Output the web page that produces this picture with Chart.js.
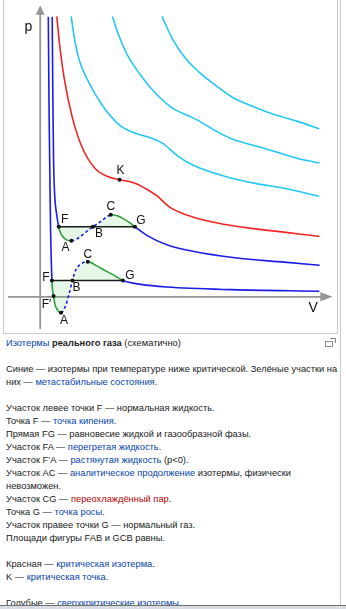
<!DOCTYPE html>
<html lang="ru">
<head>
<meta charset="utf-8">
<script src="https://cdn.jsdelivr.net/npm/chart.js@4"></script>
<style>
html, body { margin: 0; padding: 0; background: #fff; }
body { width: 346px; height: 609px; position: relative; overflow: hidden; font-family: "Liberation Sans", Arial, sans-serif; }
#frame { position: absolute; left: 3px; top: -1px; width: 333px; height: 333px; border: 1px solid #c8ccd1; }
#c { position: absolute; left: 0; top: 0; }
#edge { position: absolute; left: 340px; top: 0; width: 1px; height: 605px; background: #c8ccd1; }
#cap { position: absolute; left: 6px; top: 337px; font-size: 9.3px; line-height: 13px; color: #202122; white-space: nowrap; }
#cap a { color: #0645ad; text-decoration: none; }
#cap a.new { color: #ba0000; }
#mag1 { position: absolute; left: 325px; top: 341px; width: 6px; height: 4px; border: 1px solid #8a8a8a; background: #fff; }
#mag2 { position: absolute; left: 330px; top: 338px; width: 5px; height: 4px; border: 1px solid #8a8a8a; border-left: none; border-bottom: none; }
#bar { position: absolute; left: 0; top: 605px; width: 346px; height: 3px; border-top: 1px solid #6e6e6e; background: #d8dde3; }
</style>
</head>
<body>
<div id="frame"><canvas id="c" width="333" height="333"></canvas></div>
<div id="edge"></div>
<div id="mag2"></div><div id="mag1"></div>
<div id="cap">
<a href="#">Изотермы</a> <b>реального газа</b> (схематично)<br>
<br>
Синие — изотермы при температуре ниже критической. Зелёные участки на<br>
них — <a href="#">метастабильные состояния</a>.<br>
<br>
Участок левее точки F — нормальная жидкость.<br>
Точка F — <a href="#">точка кипения</a>.<br>
Прямая FG — равновесие жидкой и газообразной фазы.<br>
Участок FA — <a href="#">перегретая жидкость</a>.<br>
Участок F’A — <a href="#">растянутая жидкость</a> (p&lt;0).<br>
Участок AC — <a href="#">аналитическое продолжение</a> изотермы, физически<br>
невозможен.<br>
Участок CG — <a class="new" href="#">переохлаждённый пар</a>.<br>
Точка G — <a href="#">точка росы</a>.<br>
Участок правее точки G — нормальный газ.<br>
Площади фигуры FAB и GCB равны.<br>
<br>
Красная — <a href="#">критическая изотерма</a>.<br>
K — <a href="#">критическая точка</a>.<br>
<br>
Голубые — <a href="#">сверхкритические изотермы</a>.
</div>
<div id="bar"></div>
<script>
// изотермы в условных единицах: [V, p]

// сверхкритические (голубые)
const cyan1 = [[3.17,28.73],[3.47,26.7],[3.97,24.33],[4.97,22.0],[6.3,19.7],[8.0,17.7],[9.6,16.8],[11.3,16.3],[12.6,15.7],[14.0,14.5],[15.63,13.5],[18.97,12.33],[22.3,11.57],[24.6,11.2],[28.6,10.3]];
const cyan2 = [[7.4,28.73],[7.97,27.0],[8.97,24.7],[10.3,22.7],[10.97,21.83],[11.97,20.7],[13.6,19.3],[15.3,18.5],[16.3,18.0],[17.97,17.0],[19.6,16.2],[23.0,15.2],[26.3,14.2],[28.6,13.7]];
const cyan3 = [[12.47,28.73],[13.6,26.33],[14.97,24.33],[16.3,23.0],[17.97,21.67],[19.6,20.5],[21.3,19.7],[23.6,18.8],[26.3,18.0],[28.6,17.2]];

// критическая (красная)
const critical = [[1.7,28.73],[1.97,26.0],[2.47,22.33],[3.3,18.33],[4.3,15.3],[5.63,13.15],[6.97,12.3],[8.13,12.0],[9.63,11.67],[10.97,11.0],[11.97,10.33],[13.3,9.17],[15.63,8.17],[18.97,7.4],[22.3,6.93],[28.6,6.2]];

// нижняя докритическая
const low_liquid = [[0.83,28.7],[0.9,20.0],[0.97,14.0],[1.06,7.0],[1.2,1.67]];
const low_FA = [[1.2,1.67],[1.25,0.8],[1.37,0.07],[1.53,-0.83],[1.8,-1.4],[2.13,-1.63]];
const low_AC = [[2.13,-1.63],[2.57,-1.0],[2.97,0.33],[3.3,1.67],[3.63,2.73],[4.13,3.33],[4.87,3.6]];
const low_CG = [[4.87,3.6],[5.8,3.17],[6.8,2.6],[7.63,2.17],[8.47,1.67]];
const low_gas = [[8.47,1.67],[10.3,1.27],[12.97,1.0],[19.6,0.73],[28.6,0.57]];
const low_names = ['F','F′','A','B','C','G'];
const low_V = [1.2,1.37,2.13,3.3,4.87,8.47];
const low_p = [1.67,0.07,-1.63,1.67,3.6,1.67];

// верхняя докритическая
const up_liquid = [[1.23,28.7],[1.3,20.0],[1.37,14.0],[1.47,10.7],[1.7,8.33],[1.9,7.17]];
const up_FA = [[1.9,7.17],[2.03,6.67],[2.3,6.17],[2.7,5.83],[3.2,5.73]];
const up_AC = [[3.2,5.73],[4.13,6.17],[4.8,6.73],[5.4,7.17],[6.13,7.67],[6.8,8.17],[7.23,8.4]];
const up_CG = [[7.23,8.4],[7.97,8.27],[8.63,7.93],[9.3,7.5],[9.7,7.17]];
const up_gas = [[9.7,7.17],[10.97,6.27],[12.97,5.33],[15.63,4.67],[19.97,4.0],[25.0,3.55],[28.63,3.23]];
const up_names = ['F','A','B','C','G'];
const up_V = [1.9,3.2,5.4,7.23,9.7];
const up_p = [7.17,5.73,7.17,8.4,7.17];

const K_V = 8.13, K_p = 12.0;

const BLUE = '#1c1ce8', GREEN = '#2e9e3a', RED = '#f52424', CYAN = '#22c8f2';
const FILL = 'rgba(70,190,70,0.13)';

const xy = arr => arr.map(d => ({x: d[0], y: d[1]}));

function joinParts(parts) {
    let out = parts[0].slice();
    const bounds = [0];
    for (let i = 1; i < parts.length; i++) {
        bounds.push(out.length - 1);
        out = out.concat(parts[i].slice(1));
    }
    return {data: xy(out), bounds};
}

// bounds: начало FA, AC, CG, gas
function isotherm(parts) {
    const j = joinParts(parts);
    const b = j.bounds;
    return {
        data: j.data,
        showLine: true,
        borderColor: BLUE,
        borderWidth: 1.6,
        pointRadius: 0,
        cubicInterpolationMode: 'monotone',
        order: 2,
        segment: {
            borderColor: c => {
                const i = c.p0DataIndex;
                return (i >= b[1] && i < b[2]) || (i >= b[3] && i < b[4]) ? GREEN : BLUE;
            },
            borderDash: c => {
                const i = c.p0DataIndex;
                return (i >= b[2] && i < b[3]) ? [3, 2.5] : undefined;
            }
        }
    };
}

function loopFill(fa, ac, cg, level) {
    return {
        data: joinParts([fa, ac, cg]).data,
        showLine: true,
        borderColor: 'rgba(0,0,0,0)',
        backgroundColor: FILL,
        pointRadius: 0,
        cubicInterpolationMode: 'monotone',
        fill: {value: level},
        order: 5
    };
}

function simple(arr, color) {
    return {
        data: xy(arr), showLine: true, borderColor: color, borderWidth: 1.6,
        pointRadius: 0, cubicInterpolationMode: 'monotone', order: 2
    };
}

function marks(vs, ps) {
    return {
        data: vs.map((v, i) => ({x: v, y: ps[i]})),
        showLine: false, pointRadius: 2, pointBackgroundColor: '#111',
        pointBorderWidth: 0, order: 0
    };
}

const datasets = [
    loopFill(low_FA, low_AC, low_CG, low_p[0]),
    loopFill(up_FA, up_AC, up_CG, up_p[0]),
    simple(cyan1, CYAN), simple(cyan2, CYAN), simple(cyan3, CYAN),
    simple(critical, RED),
    isotherm([low_liquid, low_FA, low_AC, low_CG, low_gas]),
    isotherm([up_liquid, up_FA, up_AC, up_CG, up_gas]),
    {data: xy([[low_V[0], low_p[0]], [low_V[5], low_p[5]]]), showLine: true, borderColor: '#1a1a1a', borderWidth: 1.6, pointRadius: 0, order: 1},
    {data: xy([[up_V[0], up_p[0]], [up_V[4], up_p[4]]]), showLine: true, borderColor: '#1a1a1a', borderWidth: 1.6, pointRadius: 0, order: 1},
    marks(low_V, low_p),
    marks(up_V, up_p),
    marks([K_V], [K_p])
];

// оси со стрелками
const axesPlugin = {
    id: 'axes',
    beforeDatasetsDraw(chart) {
        const c = chart.ctx, x = chart.scales.x, y = chart.scales.y;
        const x0 = x.getPixelForValue(0), y0 = y.getPixelForValue(0);
        c.save();
        c.strokeStyle = '#959595';
        c.fillStyle = '#959595';
        c.lineWidth = 1.8;
        c.beginPath();
        c.moveTo(x0, y.getPixelForValue(-3.3));
        c.lineTo(x0, y.getPixelForValue(29.0));
        c.moveTo(x.getPixelForValue(-3.3), y0);
        c.lineTo(x.getPixelForValue(28.8), y0);
        c.stroke();
        c.beginPath();
        const ty = y.getPixelForValue(29.85), by = y.getPixelForValue(28.9);
        c.moveTo(x0, ty); c.lineTo(x0 - 4.5, by); c.lineTo(x0 + 4.5, by); c.closePath();
        c.fill();
        c.beginPath();
        const tx = x.getPixelForValue(29.95), bx = x.getPixelForValue(28.7);
        c.moveTo(tx, y0); c.lineTo(bx, y0 - 4.5); c.lineTo(bx, y0 + 4.5); c.closePath();
        c.fill();
        c.fillStyle = '#111';
        c.font = '14px "Liberation Sans", Arial, sans-serif';
        c.textAlign = 'center';
        c.textBaseline = 'middle';
        c.fillText('p', x.getPixelForValue(-1.2), y.getPixelForValue(27.6));
        c.fillText('V', x.getPixelForValue(27.97), y.getPixelForValue(-1.17));
        c.restore();
    }
};

// подписи точек
const lowOffsets = {'F': [-6, -3], 'F′': [-7, 9], 'A': [3, 8], 'B': [4, 7], 'C': [0, -7], 'G': [7, -5]};
const upOffsets = {'F': [6, -7], 'A': [-6, 7], 'B': [6, 7], 'C': [0, -8], 'G': [6, -6]};

const labelsPlugin = {
    id: 'pointLabels',
    afterDatasetsDraw(chart) {
        const c = chart.ctx, x = chart.scales.x, y = chart.scales.y;
        c.save();
        c.fillStyle = '#111';
        c.font = '12px "Liberation Sans", Arial, sans-serif';
        c.textAlign = 'center';
        c.textBaseline = 'middle';
        const put = (name, v, p, off) => c.fillText(name, x.getPixelForValue(v) + off[0], y.getPixelForValue(p) + off[1]);
        low_names.forEach((n, i) => put(n, low_V[i], low_p[i], lowOffsets[n]));
        up_names.forEach((n, i) => put(n, up_V[i], up_p[i], upOffsets[n]));
        put('K', K_V, K_p, [1, -9]);
        c.restore();
    }
};

new Chart(document.getElementById('c'), {
    type: 'scatter',
    data: {datasets},
    options: {
        responsive: false,
        animation: false,
        layout: {padding: 0},
        plugins: {legend: {display: false}, tooltip: {enabled: false}},
        scales: {
            x: {type: 'linear', display: false, min: -3.3, max: 30},
            y: {type: 'linear', display: false, min: -3.3, max: 30}
        }
    },
    plugins: [axesPlugin, labelsPlugin]
});
</script>
</body>
</html>
